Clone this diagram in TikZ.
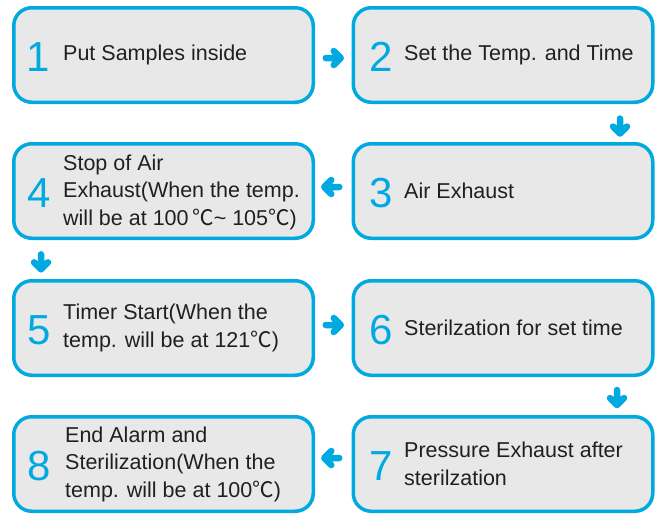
\documentclass[tikz,border=0pt]{standalone}
\usepackage{fontspec}
\setmainfont{Liberation Sans}
\newfontfamily\cjk{Noto Sans CJK SC}
\usetikzlibrary{arrows.meta,calc}
\definecolor{cyanb}{HTML}{00A9E0}
\definecolor{boxfill}{HTML}{E8E8E9}
\definecolor{txt}{HTML}{231F20}
\newcommand{\degc}{{\cjk ℃}}
\begin{document}
\begin{tikzpicture}[x=1pt,y=-1pt,
  stepbox/.style={draw=cyanb, fill=boxfill, line width=3.5pt, rounded corners=18pt,
    minimum width=299.5pt, minimum height=94.5pt, inner sep=0pt},
  num/.style={text=cyanb, font=\fontsize{42}{42}\selectfont, inner sep=0pt},
  lbl/.style={text=txt, font=\fontsize{21.5}{27.5}\selectfont, align=left, anchor=west, inner sep=0pt},
  flowarrow/.pic={\draw[cyanb, line width=6.5pt, line cap=round, line join=round]
    (-7.5,0) -- (7.5,0) (0.5,-7) -- (7.5,0) -- (0.5,7);},
  onpath/.style={pos=#1, sloped, allow upside down},
]
\useasboundingbox (0,0) rectangle (657,515);
% boxes
\node[stepbox] (b1) at (163.5,55) {};
\node[stepbox] (b2) at (503,55) {};
\node[stepbox] (b3) at (503,191) {};
\node[stepbox] (b4) at (163.5,191) {};
\node[stepbox] (b5) at (163.5,328) {};
\node[stepbox] (b6) at (503,328) {};
\node[stepbox] (b7) at (503,464) {};
\node[stepbox] (b8) at (163.5,464) {};
% numbers
\node[num] (n1) at (38,57) {1};
\node[num] (n2) at (381,57) {2};
\node[num] (n3) at (381,193) {3};
\node[num] (n4) at (39,193) {4};
\node[num] (n5) at (39,330) {5};
\node[num] (n6) at (381,330) {6};
\node[num] (n7) at (381,466) {7};
\node[num] (n8) at (39,466) {8};
% labels
\node[lbl] (t1) at (63,55) {Put Samples inside};
\node[lbl] (t2) at (404,55) {Set the Temp. and Time};
\node[lbl] (t3) at (404,191) {Air Exhaust};
\node[lbl] (t4) at (63,192) {Stop of Air\\Exhaust(When the temp.\\will be at 100\,\degc\textasciitilde{} 105\degc)};
\node[lbl] (t5) at (63,328) {Timer Start(When the\\temp. will be at 121\degc)};
\node[lbl] (t6) at (404,328) {Sterilzation for set time};
\node[lbl] (t7) at (404,464) {Pressure Exhaust after\\sterilzation};
\node[lbl] (t8) at (65,464) {End Alarm and\\Sterilization(When the\\temp. will be at 100\degc)};
% connectors
\path ([yshift=-3pt]b1.east) -- ([yshift=-3pt]b2.west) pic[onpath=0.5] {flowarrow};
\path ([xshift=117pt]b2.south) -- ([xshift=117pt]b3.north) pic[onpath=0.58] {flowarrow};
\path ([yshift=4pt]b3.west) -- ([yshift=4pt]b4.east) pic[onpath=0.54] {flowarrow};
\path ([xshift=-122.5pt]b4.south) -- ([xshift=-122.5pt]b5.north) pic[onpath=0.56] {flowarrow};
\path ([yshift=3pt]b5.east) -- ([yshift=3pt]b6.west) pic[onpath=0.5] {flowarrow};
\path ([xshift=114pt]b6.south) -- ([xshift=114pt]b7.north) pic[onpath=0.54] {flowarrow};
\path ([yshift=6pt]b7.west) -- ([yshift=6pt]b8.east) pic[onpath=0.54] {flowarrow};
\end{tikzpicture}
\end{document}
